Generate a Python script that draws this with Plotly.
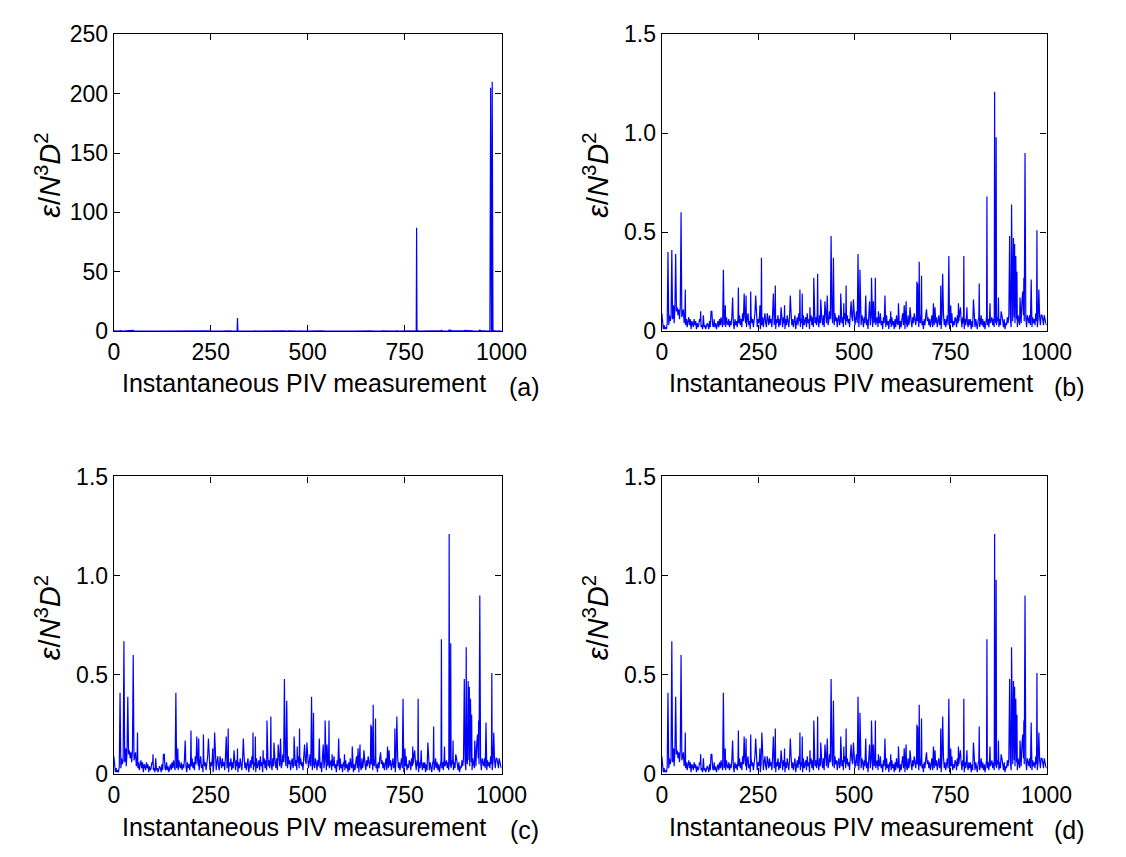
import plotly.graph_objects as go

# Instantaneous dissipation rate, sampled at every second PIV snapshot (units of 0.01)
base_000 = [9, 2, 1, 3, 1, 2, 1, 4, 6, 3, 8, 5, 7, 12, 6, 9, 4, 11, 7, 10,
            5, 8, 12, 6, 9, 3, 7, 10, 11, 4, 8, 3, 6, 2, 5, 7, 3, 6, 1, 5,
            4, 2, 6, 3, 5, 1, 4, 2, 3, 6]
base_100 = [5, 2, 3, 1, 4, 2, 3, 1, 2, 4, 3, 1, 5, 2, 4, 7, 3, 2, 6, 2,
            4, 1, 3, 5, 2, 6, 3, 7, 4, 2, 6, 3, 5, 2, 7, 4, 3, 6, 2, 5,
            3, 7, 2, 4, 1, 6, 3, 5, 2, 7]
base_200 = [4, 8, 3, 6, 2, 9, 5, 3, 7, 4, 2, 6, 9, 3, 5, 1, 8, 4, 6, 2,
            5, 9, 3, 7, 2, 6, 4, 8, 1, 5, 3, 7, 2, 6, 9, 4, 2, 7, 5, 3,
            8, 4, 6, 2, 9, 5, 3, 7, 1, 6]
base_300 = [4, 8, 2, 6, 3, 9, 5, 2, 7, 4, 1, 6, 3, 8, 5, 2, 7, 4, 9, 3,
            6, 2, 5, 8, 1, 4, 7, 3, 9, 5, 2, 6, 4, 1, 8, 3, 5, 7, 2, 9,
            4, 6, 1, 5, 8, 3, 7, 2, 6, 4]
base_400 = [7, 3, 9, 5, 2, 8, 4, 10, 6, 3, 8, 2, 6, 9, 4, 7, 3, 5, 10, 6,
            2, 8, 4, 6, 3, 9, 5, 7, 2, 6, 8, 3, 5, 10, 4, 7, 2, 6, 9, 3,
            5, 8, 4, 6, 2, 9, 3, 7, 5, 4]
base_500 = [8, 3, 6, 10, 4, 7, 2, 9, 5, 3, 8, 6, 2, 7, 4, 9, 3, 6, 1, 8,
            5, 3, 7, 9, 2, 6, 4, 8, 3, 5, 7, 2, 6, 4, 9, 3, 5, 1, 7, 4,
            6, 2, 8, 3, 5, 1, 6, 4, 2, 7]
base_600 = [3, 5, 1, 6, 2, 8, 4, 3, 7, 1, 5, 2, 6, 9, 3, 5, 1, 7, 4, 2,
            8, 3, 6, 10, 5, 2, 7, 4, 9, 6, 3, 8, 5, 7, 2, 6, 4, 9, 3, 5,
            1, 6, 3, 8, 2, 5, 7, 3, 6, 2]
base_700 = [5, 8, 2, 6, 3, 9, 4, 7, 2, 6, 8, 3, 5, 1, 7, 4, 9, 3, 6, 2,
            5, 8, 3, 6, 1, 7, 4, 9, 2, 5, 3, 7, 6, 2, 8, 4, 5, 9, 3, 6,
            2, 7, 4, 1, 6, 3, 8, 5, 2, 6]
base_800 = [3, 6, 1, 5, 2, 7, 4, 2, 6, 3, 1, 5, 7, 2, 4, 8, 3, 6, 2, 5,
            1, 4, 7, 3, 6, 2, 8, 4, 5, 7, 3, 6, 2, 9, 4, 3, 7, 5, 2, 6,
            3, 5, 8, 4, 2, 6, 1, 4, 3, 7]
base_900 = [4, 8, 3, 6, 2, 9, 5, 11, 7, 4, 3, 6, 2, 8, 5, 3, 7, 4, 9, 6,
            8, 5, 3, 7, 2, 9, 6, 4, 8, 3, 5, 2, 7, 4, 6, 3, 9, 5, 2, 6,
            4, 7, 3, 8, 2, 6, 3, 1, 5, 4, 3]

# Peaks common to the filtered records (b), (c), (d): (measurement index, value)
peaks_shared = [
    (31, 0.13), (40, 0.12), (44, 0.11), (48, 0.12), (101, 0.10), (108, 0.08),
    (128, 0.10), (130, 0.10), (165, 0.13), (184, 0.17), (199, 0.22), (214, 0.19),
    (219, 0.18), (231, 0.20), (244, 0.18), (255, 0.13), (274, 0.09), (290, 0.19),
    (295, 0.23), (310, 0.12), (319, 0.13), (334, 0.18), (359, 0.21), (365, 0.19),
    (385, 0.12), (395, 0.27), (405, 0.29), (413, 0.16), (424, 0.15), (430, 0.18),
    (440, 0.48), (446, 0.37), (465, 0.19), (473, 0.14), (479, 0.23), (492, 0.15),
    (498, 0.16), (510, 0.39), (515, 0.31), (530, 0.18), (540, 0.15), (545, 0.27),
    (550, 0.15), (555, 0.27), (563, 0.10), (580, 0.18), (595, 0.10), (615, 0.14),
    (630, 0.13), (635, 0.15), (645, 0.12), (663, 0.25), (665, 0.24), (669, 0.35),
    (675, 0.28), (688, 0.11), (706, 0.14), (710, 0.12), (725, 0.23), (730, 0.29),
    (746, 0.38), (751, 0.13), (771, 0.14), (776, 0.12), (785, 0.38), (793, 0.12),
    (810, 0.16), (825, 0.24), (845, 0.68), (853, 0.14), (865, 1.21), (875, 0.17),
    (882, 0.10), (904, 0.48), (909, 0.64), (914, 0.47), (917, 0.44), (920, 0.38),
    (923, 0.30), (931, 0.17), (936, 0.15), (938, 0.20), (941, 0.27), (944, 0.90),
    (950, 0.08), (960, 0.26), (975, 0.51), (980, 0.21), (988, 0.08), (994, 0.08),
]

# Peaks that differ between the records
peaks_a = [(16, 0.40), (26, 0.41), (36, 0.39), (50, 0.60), (61, 0.21), (160, 0.31),
           (259, 0.37), (319, 11.0), (781, 87.0), (869, 0.98), (972, 205.0), (976, 210.0)]
peaks_b = [(16, 0.40), (26, 0.41), (36, 0.39), (50, 0.60), (61, 0.21), (160, 0.31),
           (259, 0.37), (869, 0.98)]
peaks_c = [(16, 0.41), (26, 0.67), (36, 0.39), (50, 0.60), (61, 0.21), (160, 0.41),
           (260, 0.21), (869, 0.66)]
peaks_d = [(16, 0.41), (26, 0.67), (36, 0.39), (50, 0.60), (61, 0.21), (160, 0.41),
           (260, 0.21), (869, 0.98)]

x_ticks = [0, 250, 500, 750, 1000]
y_ticks_a = [0, 50, 100, 150, 200, 250]
y_ticks_bcd = [0, 0.5, 1.0, 1.5]
y_labels_bcd = ["0", "0.5", "1.0", "1.5"]
panel_tags = ["(a)", "(b)", "(c)", "(d)"]

baseline = (base_000 + base_100 + base_200 + base_300 + base_400 +
            base_500 + base_600 + base_700 + base_800 + base_900)


def record(peaks):
    pts = {2 * k: v / 100 for k, v in enumerate(baseline)}
    for i, v in peaks_shared:
        pts[i] = v
    for i, v in peaks:
        pts[i] = v
    xs = sorted(pts)
    return xs, [pts[i] for i in xs]


W, H = 1126, 857
FONT = "Arial, 'Liberation Sans', sans-serif"
BLUE = "#0000ff"

# plot frames in pixels: (left, right, top, bottom)
frames = [(111, 510, 22, 328), (675, 1071, 22, 328),
          (111, 510, 478, 785), (675, 1071, 478, 785)]

fig = go.Figure()
annotations = []
for n, (peaks, frame) in enumerate(zip([peaks_a, peaks_b, peaks_c, peaks_d], frames)):
    l, r, t, b = frame
    sfx = "" if n == 0 else str(n + 1)
    xs, ys = record(peaks)
    fig.add_trace(go.Scatter(x=xs, y=ys, mode="lines", xaxis="x" + sfx, yaxis="y" + sfx,
                             line=dict(color=BLUE, width=1.2), showlegend=False,
                             hoverinfo="skip"))
    common = dict(showgrid=False, zeroline=False, showline=True, linecolor="black",
                  linewidth=1.3, mirror="ticks", ticks="inside", ticklen=6,
                  tickcolor="black", tickwidth=1.2,
                  tickfont=dict(family=FONT, size=23, color="black"))
    if n == 0:
        yax = dict(range=[0, 250], tickvals=y_ticks_a, **common)
    else:
        yax = dict(range=[0, 1.5], tickvals=y_ticks_bcd, ticktext=y_labels_bcd, **common)
    yax["domain"] = [1 - b / H, 1 - t / H]
    yax["anchor"] = "x" + sfx
    xax = dict(range=[0, 1000], tickvals=x_ticks, domain=[l / W, r / W],
               anchor="y" + sfx, **common)
    fig.update_layout(**{"xaxis" + sfx: xax, "yaxis" + sfx: yax})

    annotations.append(dict(x=(l + r) / 2 / W - 0.003, y=1 - (b + 54) / H, xref="paper",
                            yref="paper", text="Instantaneous PIV measurement",
                            showarrow=False, font=dict(family=FONT, size=25, color="black"),
                            xanchor="center", yanchor="middle"))
    annotations.append(dict(x=(r + 24) / W, y=1 - (b + 58) / H, xref="paper", yref="paper",
                            text=panel_tags[n], showarrow=False,
                            font=dict(family=FONT, size=25, color="black"),
                            xanchor="center", yanchor="middle"))
    annotations.append(dict(x=(l - 68) / W, y=1 - ((t + b) / 2 - 8) / H, xref="paper",
                            yref="paper", textangle=-90, showarrow=False,
                            text="<i>ε</i>/<i>N</i><sup>3</sup><i>D</i><sup>2</sup>",
                            font=dict(family=FONT, size=29, color="black"),
                            xanchor="center", yanchor="middle"))

fig.update_layout(width=W, height=H, margin=dict(l=0, r=0, t=0, b=0),
                  paper_bgcolor="white", plot_bgcolor="white",
                  annotations=annotations)

fig.write_html("out.html")
